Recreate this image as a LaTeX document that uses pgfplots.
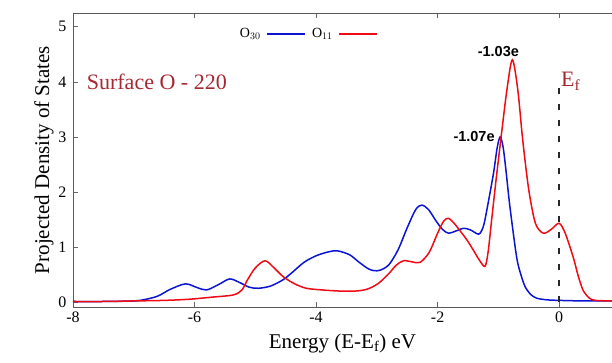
\documentclass[border=0pt]{standalone}
\usepackage{pgfplots}
\pgfplotsset{compat=1.18}
\usepackage{fontspec}
\setmainfont{Liberation Serif}
\newfontfamily\annfont{Liberation Sans}
\definecolor{myblue}{RGB}{10,20,210}
\definecolor{myred}{RGB}{240,10,20}
\definecolor{dred}{RGB}{165,40,50}
\begin{document}
\begin{tikzpicture}
\begin{axis}[
  at={(0,0)}, anchor=south west,
  scale only axis, width=539pt, height=294pt,
  xmin=-8, xmax=0.87, ymin=-0.09, ymax=5.25,
  axis x line=box, axis y line=left,
  y axis line style={-},
  axis line style={draw=black!65, line width=0.8pt},
  xtick={-8,-6,-4,-2,0}, ytick={0,1,2,3,4,5},
  tick align=inside, major tick length=5pt,
  tick style={draw=black!60, line width=0.6pt},
  xticklabel style={font=\fontsize{16}{18}\selectfont, yshift=-1pt},
  yticklabel style={font=\fontsize{16}{18}\selectfont, xshift=-3pt},
  /pgf/number format/assume math mode=true,
  xlabel={Energy (E-E$_{\mathrm{f}}$) eV},
  ylabel={Projected Density of States},
  xlabel style={font=\fontsize{21}{24}\selectfont, yshift=-5pt},
  ylabel style={font=\fontsize{21}{24}\selectfont, yshift=-2pt},
  legend plot pos=right,
  legend columns=2,
  legend style={draw=none, fill=none, at={(0.436,0.929)}, anchor=center,
    font=\fontsize{14}{16}\selectfont, column sep=4pt},
  legend image code/.code={\draw[#1, line width=1.5pt] (0pt,0pt) -- (38pt,0pt);},
]
\addplot[myblue, line width=1.5pt, smooth, tension=0.5] coordinates {
(-8,0.01) (-7.5,0.01) (-7.0,0.02) (-6.8,0.05) (-6.6,0.11) (-6.4,0.23) (-6.15,0.33)
(-5.95,0.26) (-5.8,0.22) (-5.6,0.32) (-5.42,0.42) (-5.25,0.35) (-5.1,0.27)
(-4.95,0.25) (-4.75,0.29) (-4.55,0.4) (-4.4,0.53) (-4.2,0.72) (-4.0,0.84)
(-3.8,0.91) (-3.65,0.93) (-3.45,0.86) (-3.3,0.73) (-3.15,0.61) (-3.05,0.57)
(-2.94,0.58) (-2.8,0.68) (-2.65,0.95) (-2.5,1.35) (-2.36,1.68) (-2.26,1.76)
(-2.15,1.68) (-2.03,1.48) (-1.92,1.32) (-1.82,1.25) (-1.7,1.29) (-1.57,1.34)
(-1.46,1.31) (-1.35,1.24) (-1.30,1.25) (-1.24,1.40) (-1.18,1.73) (-1.08,2.34)
(-1.02,2.8) (-0.97,3.0) (-0.92,2.8) (-0.87,2.34) (-0.81,1.73) (-0.70,0.82)
(-0.63,0.5) (-0.56,0.28) (-0.47,0.14) (-0.37,0.07) (-0.2,0.04) (0,0.03) (0.4,0.02) (0.87,0.02)
};
\addlegendentry{O$_{30}$}
\addplot[myred, line width=1.5pt, smooth, tension=0.5] coordinates {
(-8,0.01) (-7.5,0.01) (-7.0,0.02) (-6.5,0.03) (-6.1,0.05) (-5.7,0.09) (-5.36,0.13)
(-5.22,0.22) (-5.13,0.4) (-5.0,0.62) (-4.84,0.75) (-4.7,0.63) (-4.54,0.46)
(-4.35,0.33) (-4.16,0.25) (-3.9,0.22) (-3.62,0.2) (-3.35,0.2) (-3.17,0.23)
(-3.03,0.3) (-2.94,0.37) (-2.8,0.52) (-2.68,0.67) (-2.56,0.75) (-2.42,0.73)
(-2.29,0.72) (-2.14,0.9) (-2.0,1.25) (-1.9,1.47) (-1.82,1.52) (-1.72,1.42)
(-1.6,1.25) (-1.5,1.1) (-1.4,0.92) (-1.3,0.74) (-1.22,0.65) (-1.17,0.9)
(-1.11,1.5) (-1.04,2.2) (-0.96,2.95) (-0.86,3.85) (-0.77,4.4) (-0.68,3.85)
(-0.60,2.95) (-0.50,2.04) (-0.39,1.43) (-0.26,1.25) (-0.13,1.32) (0,1.43)
(0.1,1.25) (0.23,0.82) (0.32,0.45) (0.4,0.2) (0.5,0.07) (0.6,0.03) (0.87,0.02)
};
\addlegendentry{O$_{11}$}
\addplot[black!85, line width=1.5pt, dash pattern=on 6pt off 10pt, forget plot] coordinates {(0,0) (0,3.98)};
\node[anchor=west, text=dred, font=\fontsize{22}{24}\selectfont] at (axis cs:-7.83,4.0) {Surface O - 220};
\node[anchor=base west, text=dred, font=\fontsize{22}{24}\selectfont, inner sep=0pt] at (axis cs:0.03,3.91) {E$_{\mathrm{f}}$};
\node[font=\annfont\bfseries\fontsize{14.5}{16}\selectfont] at (axis cs:-1.0,4.55) {-1.03e};
\node[font=\annfont\bfseries\fontsize{14.5}{16}\selectfont] at (axis cs:-1.40,3.0) {-1.07e};
\end{axis}
\pgfresetboundingbox
\path (-73pt,-56pt) rectangle (539pt,307pt);
\end{tikzpicture}
\end{document}
